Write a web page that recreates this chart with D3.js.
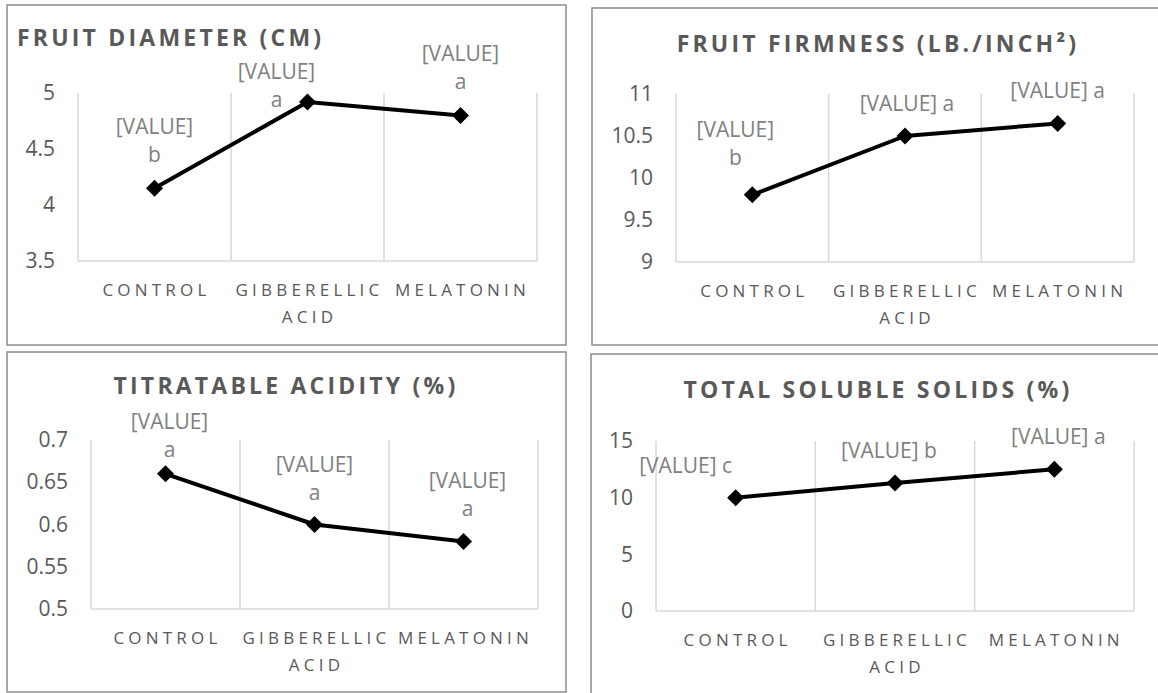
<!DOCTYPE html>
<html>
<head>
<meta charset="utf-8">
<script src="https://cdn.jsdelivr.net/npm/d3@7"></script>
<style>
  body { margin: 0; background: #fff; }
  text { font-family: "Open Sans", sans-serif; }
</style>
</head>
<body>
<div id="wrapper"></div>
<script>
// 1. Data
const categories = ["CONTROL", "GIBBERELLIC ACID", "MELATONIN"]
const categoryLines = [["CONTROL"], ["GIBBERELLIC", "ACID"], ["MELATONIN"]]

const diameterValues = [4.15, 4.92, 4.8]
const diameterTicks = [3.5, 4, 4.5, 5]
const diameterLetters = ["b", "a", "a"]

const firmnessValues = [9.8, 10.5, 10.65]
const firmnessTicks = [9, 9.5, 10, 10.5, 11]
const firmnessLetters = ["b", "a", "a"]

const acidityValues = [0.66, 0.6, 0.58]
const acidityTicks = [0.5, 0.55, 0.6, 0.65, 0.7]
const acidityLetters = ["a", "a", "a"]

const solidsValues = [10, 11.3, 12.5]
const solidsTicks = [0, 5, 10, 15]
const solidsLetters = ["c", "b", "a"]

// 2. Dimensions
const width = 1158
const height = 693

const wrapper = d3.select("#wrapper")
  .append("svg")
    .attr("width", width)
    .attr("height", height)

const panels = [
  {
    title: "FRUIT DIAMETER (CM)", titleX: 17, titleY: 46, titleAnchor: "start",
    box: {x: 7, y: 5, w: 559, h: 340},
    plot: {left: 78, right: 537, top: 93, bottom: 261},
    values: diameterValues, ticks: diameterTicks, letters: diameterLetters,
    // label offsets from the marker: dx, dy of the last line, inline or stacked
    labels: [{dx: 0, dy: -33, inline: false}, {dx: -31, dy: -2, inline: false}, {dx: 0, dy: -33, inline: false}],
  },
  {
    title: "FRUIT FIRMNESS (LB./INCH\u00B2)", titleX: 878, titleY: 52, titleAnchor: "middle",
    box: {x: 592, y: 8, w: 580, h: 337},
    plot: {left: 676, right: 1134, top: 94, bottom: 262},
    values: firmnessValues, ticks: firmnessTicks, letters: firmnessLetters,
    labels: [{dx: -17, dy: -37, inline: false}, {dx: 2, dy: -32, inline: true}, {dx: 0, dy: -32, inline: true}],
  },
  {
    title: "TITRATABLE ACIDITY (%)", titleX: 286, titleY: 394, titleAnchor: "middle",
    box: {x: 7, y: 352, w: 559, h: 340},
    plot: {left: 91, right: 538, top: 440, bottom: 609},
    values: acidityValues, ticks: acidityTicks, letters: acidityLetters,
    labels: [{dx: 4, dy: -24, inline: false}, {dx: 0, dy: -32, inline: false}, {dx: 4, dy: -32, inline: false}],
  },
  {
    title: "TOTAL SOLUBLE SOLIDS (%)", titleX: 878, titleY: 398, titleAnchor: "middle",
    box: {x: 591, y: 354, w: 580, h: 360},
    plot: {left: 656, right: 1134, top: 441, bottom: 611},
    values: solidsValues, ticks: solidsTicks, letters: solidsLetters,
    labels: [{dx: -50, dy: -32, inline: true}, {dx: -6, dy: -32, inline: true}, {dx: 4, dy: -32, inline: true}],
  },
]

const textColor = "#595959"
const labelColor = "#808080"
const gridColor = "#d9d9d9"

function drawPanel(p) {
  const g = wrapper.append("g")

  // panel frame
  g.append("rect")
      .attr("x", p.box.x)
      .attr("y", p.box.y)
      .attr("width", p.box.w)
      .attr("height", p.box.h)
      .attr("fill", "none")
      .attr("stroke", "#8c8c8c")
      .attr("stroke-width", 1.5)

  // title
  g.append("text")
      .attr("x", p.titleX)
      .attr("y", p.titleY)
      .attr("text-anchor", p.titleAnchor)
      .attr("fill", textColor)
      .style("font-size", "23px")
      .style("font-weight", 700)
      .style("letter-spacing", "3.2px")
      .text(p.title)

  // scales
  const xScale = d3.scaleBand()
    .domain(categories)
    .range([p.plot.left, p.plot.right])

  const yScale = d3.scaleLinear()
    .domain(d3.extent(p.ticks))
    .range([p.plot.bottom, p.plot.top])

  const xCenter = d => xScale(d) + xScale.bandwidth() / 2

  // category gridlines
  g.selectAll(".grid")
    .data(d3.range(categories.length + 1))
    .enter().append("line")
      .attr("class", "grid")
      .attr("x1", i => p.plot.left + i * xScale.step())
      .attr("x2", i => p.plot.left + i * xScale.step())
      .attr("y1", p.plot.top)
      .attr("y2", p.plot.bottom)
      .attr("stroke", gridColor)
      .attr("stroke-width", 1.5)

  g.append("line")
      .attr("x1", p.plot.left)
      .attr("x2", p.plot.right)
      .attr("y1", p.plot.bottom)
      .attr("y2", p.plot.bottom)
      .attr("stroke", gridColor)
      .attr("stroke-width", 1.5)

  // y axis
  const yAxisGenerator = d3.axisLeft()
    .scale(yScale)
    .tickValues(p.ticks)
    .tickFormat(d => d)
    .tickSize(0)
    .tickPadding(23)

  const yAxis = g.append("g")
      .attr("transform", `translate(${p.plot.left}, 0)`)
      .call(yAxisGenerator)
  yAxis.select(".domain").remove()
  yAxis.selectAll("text")
      .attr("fill", textColor)
      .style("font-family", "'Open Sans', sans-serif")
      .style("font-size", "21px")

  // x labels
  const xLabels = g.selectAll(".x-label")
    .data(categories)
    .enter().append("text")
      .attr("class", "x-label")
      .attr("text-anchor", "middle")
      .attr("fill", textColor)
      .style("font-size", "17px")
      .style("letter-spacing", "4.2px")

  xLabels.selectAll("tspan")
    .data((d, i) => categoryLines[i].map(line => ({line, x: xCenter(d)})))
    .enter().append("tspan")
      .attr("x", d => d.x + 2)
      .attr("y", (d, i) => p.plot.bottom + 35 + i * 27)
      .text(d => d.line)

  // line and markers
  const points = categories.map((c, i) => ({
    x: xCenter(c),
    y: yScale(p.values[i]),
    letter: p.letters[i],
    layout: p.labels[i],
  }))

  const lineGenerator = d3.line()
    .x(d => d.x)
    .y(d => d.y)

  g.append("path")
      .attr("d", lineGenerator(points))
      .attr("fill", "none")
      .attr("stroke", "#000")
      .attr("stroke-width", 4)
      .attr("stroke-linejoin", "round")

  g.selectAll(".marker")
    .data(points)
    .enter().append("path")
      .attr("class", "marker")
      .attr("d", d3.symbol(d3.symbolSquare, 145)())
      .attr("transform", d => `translate(${d.x}, ${d.y}) rotate(45)`)
      .attr("fill", "#000")

  // data labels
  const dataLabels = g.selectAll(".data-label")
    .data(points)
    .enter().append("text")
      .attr("class", "data-label")
      .attr("text-anchor", "middle")
      .attr("fill", labelColor)
      .style("font-size", "21px")

  dataLabels.each(function(d) {
    const t = d3.select(this)
    const cx = d.x + d.layout.dx
    const cy = d.y + d.layout.dy
    if (d.layout.inline) {
      t.append("tspan")
          .attr("x", cx)
          .attr("y", cy + 7)
          .text(`[VALUE] ${d.letter}`)
    } else {
      t.append("tspan")
          .attr("x", cx)
          .attr("y", cy - 28 + 7)
          .text("[VALUE]")
      t.append("tspan")
          .attr("x", cx)
          .attr("y", cy + 7)
          .text(d.letter)
    }
  })
}

panels.forEach(drawPanel)
</script>
</body>
</html>
